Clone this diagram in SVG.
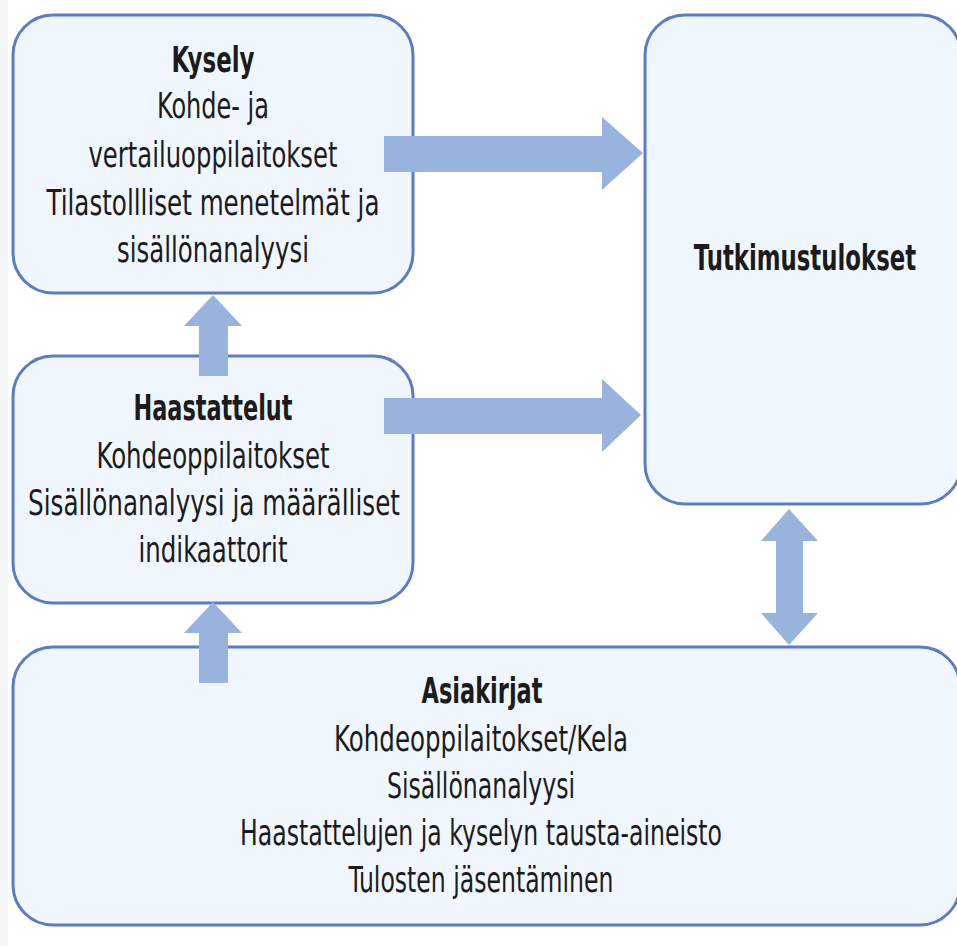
<svg xmlns="http://www.w3.org/2000/svg" width="957" height="946" viewBox="0 0 957 946">
<style>
.box{fill:#EFF6FE;stroke:#5B7CC4;stroke-width:3}
.arr{fill:#98B3DE}
text{font-family:"Liberation Sans Narrow","DejaVu Sans Condensed","Liberation Sans",sans-serif;font-size:35px;fill:#1b1b1b;text-anchor:middle}
.b{font-weight:bold}
</style>
<rect x="0" y="0" width="957" height="946" fill="#ffffff"/>
<rect x="0" y="0" width="8" height="946" fill="#f4f5f6"/>
<g id="kysely">
<rect class="box" x="13" y="15" width="400" height="278" rx="40"/>
<text class="b" x="213" y="72" textLength="83" lengthAdjust="spacingAndGlyphs">Kysely</text>
<text x="213" y="118" textLength="112" lengthAdjust="spacingAndGlyphs">Kohde- ja</text>
<text x="213" y="167" textLength="249" lengthAdjust="spacingAndGlyphs">vertailuoppilaitokset</text>
<text x="213" y="215" textLength="333" lengthAdjust="spacingAndGlyphs">Tilastollliset menetelmät ja</text>
<text x="213" y="262" textLength="192" lengthAdjust="spacingAndGlyphs">sisällönanalyysi</text>
</g>
<g id="haastattelut">
<rect class="box" x="13" y="356" width="400" height="247" rx="40"/>
<text class="b" x="213" y="420" textLength="159" lengthAdjust="spacingAndGlyphs">Haastattelut</text>
<text x="213" y="468" textLength="233" lengthAdjust="spacingAndGlyphs">Kohdeoppilaitokset</text>
<text x="214" y="515" textLength="372" lengthAdjust="spacingAndGlyphs">Sisällönanalyysi ja määrälliset</text>
<text x="213" y="562" textLength="149" lengthAdjust="spacingAndGlyphs">indikaattorit</text>
</g>
<g id="tutkimustulokset">
<rect class="box" x="645" y="15" width="316" height="489" rx="40"/>
<text class="b" transform="translate(805,270) scale(0.725,1)" x="0" y="0">Tutkimustulokset</text>
</g>
<g id="asiakirjat">
<rect class="box" x="13" y="647" width="947" height="278" rx="40"/>
<text class="b" x="482" y="703" textLength="121" lengthAdjust="spacingAndGlyphs">Asiakirjat</text>
<text x="481" y="751" textLength="294" lengthAdjust="spacingAndGlyphs">Kohdeoppilaitokset/Kela</text>
<text x="481" y="798" textLength="188" lengthAdjust="spacingAndGlyphs">Sisällönanalyysi</text>
<text x="481" y="845" textLength="482" lengthAdjust="spacingAndGlyphs">Haastattelujen ja kyselyn tausta-aineisto</text>
<text x="481" y="892" textLength="265" lengthAdjust="spacingAndGlyphs">Tulosten jäsentäminen</text>
</g>
<g id="connectors">
<polygon class="arr" points="384,136 602,136 602,117 643,153 602,190 602,172 384,172"/>
<polygon class="arr" points="384,398 602,398 602,379 641,415 602,452 602,434 384,434"/>
<polygon class="arr" points="213,295 242,326 228,326 228,376 199,376 199,326 184,326"/>
<polygon class="arr" points="213,602 242,633 228,633 228,683 199,683 199,633 184,633"/>
<polygon class="arr" points="789,509 818,541 803,541 803,613 818,613 789,645 761,613 776,613 776,541 761,541"/>
</g>
</svg>
